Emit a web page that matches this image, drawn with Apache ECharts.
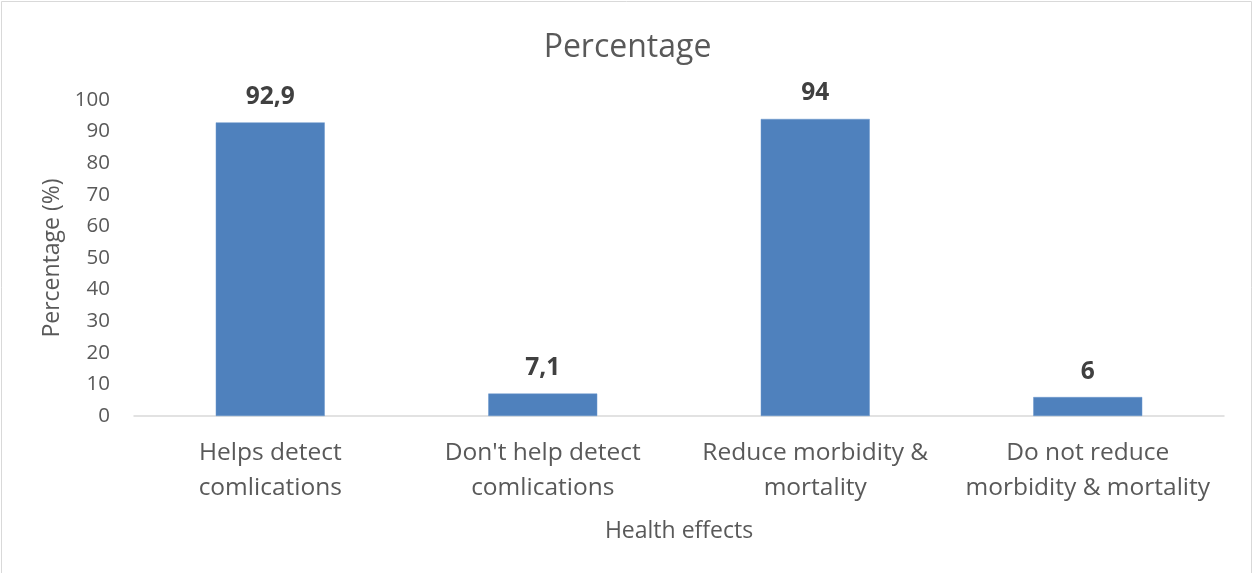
<!DOCTYPE html>
<html>
<head>
<meta charset="utf-8">
<script src="https://cdn.jsdelivr.net/npm/echarts@6/dist/echarts.min.js"></script>
<style>
  html, body { margin: 0; padding: 0; background: #ffffff; }
  #chart { width: 1255px; height: 573px; }
</style>
</head>
<body>
<div id="chart"></div>
<script>
// Survey responses on the health effects of the practice
const categories = [
  "Helps detect\ncomlications",
  "Don't help detect\ncomlications",
  "Reduce morbidity &\nmortality",
  "Do not reduce\nmorbidity & mortality"
];
const percentages = [92.9, 7.1, 94, 6];
const yTicks = [0, 10, 20, 30, 40, 50, 60, 70, 80, 90, 100];

const FONT = "'Open Sans', 'Liberation Sans', sans-serif";
const TEXT = "#595959";

const chart = echarts.init(document.getElementById("chart"), null, { renderer: "canvas" });

chart.setOption({
  animation: false,
  backgroundColor: "#ffffff",
  title: {
    text: "Percentage",
    left: "center",
    top: 27,
    textStyle: { fontFamily: FONT, fontSize: 32, fontWeight: "normal", color: TEXT }
  },
  graphic: [{
    type: "rect",
    shape: { x: 1.5, y: 1.5, width: 1250, height: 620 },
    style: { fill: "none", stroke: "#d9d9d9", lineWidth: 1 },
    silent: true
  }],
  grid: { left: 134, right: 31, top: 100, bottom: 157, containLabel: false },
  xAxis: {
    type: "category",
    data: categories,
    name: "Health effects",
    nameLocation: "middle",
    nameGap: 104,
    nameTextStyle: { fontFamily: FONT, fontSize: 23, color: TEXT },
    axisLine: { lineStyle: { color: "#d9d9d9", width: 1.5 } },
    axisTick: { show: false },
    axisLabel: {
      fontFamily: FONT, fontSize: 24.5, color: TEXT, lineHeight: 35, margin: 20, interval: 0
    }
  },
  yAxis: {
    type: "value",
    min: 0,
    max: yTicks[yTicks.length - 1],
    interval: yTicks[1] - yTicks[0],
    name: "Percentage (%)",
    nameLocation: "middle",
    nameGap: 70,
    nameTextStyle: { fontFamily: FONT, fontSize: 23, color: TEXT },
    axisLine: { show: false },
    axisTick: { show: false },
    splitLine: { show: false },
    axisLabel: { fontFamily: FONT, fontSize: 20.5, color: TEXT, margin: 24 }
  },
  series: [{
    type: "bar",
    data: percentages,
    barWidth: "40%",
    itemStyle: { color: "#4f81bd", borderColor: "#6a96cc", borderWidth: 0.5 },
    label: {
      show: true,
      position: "top",
      distance: 13,
      fontFamily: FONT,
      fontSize: 24.5,
      fontWeight: "bold",
      color: "#404040",
      formatter: p => String(p.value).replace(".", ",")
    }
  }]
});
</script>
</body>
</html>
